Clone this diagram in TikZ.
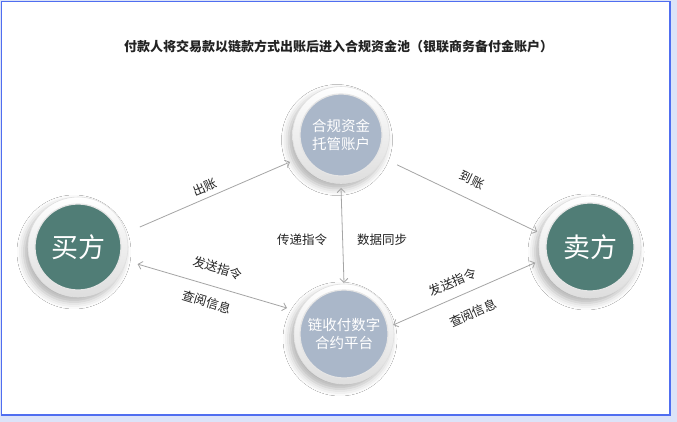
\documentclass[tikz,border=0pt]{standalone}
\usepackage{fontspec}
\setmainfont{Noto Sans CJK SC}
\usetikzlibrary{arrows.meta,shadows.blur}
\definecolor{bglav}{RGB}{220,227,248}
\definecolor{frameblue}{RGB}{80,110,240}
\definecolor{myteal}{RGB}{80,125,118}
\definecolor{mygrayblue}{RGB}{170,183,201}
\definecolor{arrgray}{RGB}{165,165,165}
\definecolor{txt}{RGB}{35,35,35}
\tikzset{
  ring/.style={circle, minimum size=#1, inner sep=0pt, draw=black!12, line width=0.6pt,
    top color=white, bottom color=black!13,
    blur shadow={shadow xshift=-4pt, shadow yshift=-5pt, shadow blur radius=7pt, shadow opacity=30}},
  disc/.style={circle, minimum size=#1, inner sep=0pt, draw=white!90!black, line width=1.2pt, text=white, align=center},
  bigtxt/.style={font=\fontsize{27}{30}\selectfont},
  midtxt/.style={font=\fontsize{14.5}{17.5}\selectfont},
  lbl/.style={font=\fontsize{12.5}{14}\selectfont, text=txt, inner sep=0pt},
  titletxt/.style={font=\fontsize{13}{15}\selectfont\bfseries, text=txt},
  arr/.style={draw=arrgray, line width=0.8pt, -{Straight Barb[length=4pt,width=8pt]}},
  dbl/.style={draw=arrgray, line width=0.8pt, {Straight Barb[length=4pt,width=8pt]}-{Straight Barb[length=4pt,width=8pt]}}
}
\begin{document}
\begin{tikzpicture}[x=1pt,y=-1pt]
\fill[bglav] (0,0) rectangle (677,422);
\draw[frameblue, line width=1.2pt, fill=white] (1.5,1.5) rectangle (670,415);
\node[titletxt] (title) at (338.5,47) {付款人将交易款以链款方式出账后进入合规资金池（银联商务备付金账户）};

\node[ring=100pt] (B) at (78,247) {};
\node[disc=86pt, fill=myteal, bigtxt] (Bi) at (B) {买方};
\node[ring=102pt] (S) at (590,247) {};
\node[disc=88pt, fill=myteal, bigtxt] (Si) at (S) {卖方};
\node[ring=97pt] (T) at (341,135) {};
\node[disc=82pt, fill=mygrayblue, midtxt] (Ti) at (T) {合规资金\\托管账户};
\node[ring=100pt] (P) at (344,334) {};
\node[disc=88pt, fill=mygrayblue, midtxt] (Pi) at (P) {链收付数字\\合约平台};

\draw[arr] ([shift={(17.9:65pt)}]B.center) -- ([shift={(207.9:57.7pt)}]T.center);
\draw[arr] ([shift={(-28:63.6pt)}]T.center) -- ([shift={(164:55pt)}]S.center);
\draw[dbl] ([shift={(-16:62pt)}]B.center) -- ([shift={(155.5:62.6pt)}]P.center);
\draw[dbl] ([shift={(10.4:50pt)}]P.center) -- ([shift={(196:57pt)}]S.center);
\draw[dbl] ([shift={(-90:53pt)}]T.center) -- ([shift={(90:51pt)}]P.center);

\node[lbl, rotate=23] (l1) at (205,187) {出账};
\node[lbl, rotate=-25.6] (l2) at (472,180) {到账};
\node[lbl, rotate=-16.8] (l3) at (218,268) {发送指令};
\node[lbl, rotate=-16.8] (l4) at (207,302) {查阅信息};
\node[lbl, rotate=23.6] (l5) at (453,282) {发送指令};
\node[lbl, rotate=23.6] (l6) at (473,313) {查阅信息};
\node[lbl] (l7) at (302,240) {传递指令};
\node[lbl] (l8) at (382,240) {数据同步};
\end{tikzpicture}
\end{document}
